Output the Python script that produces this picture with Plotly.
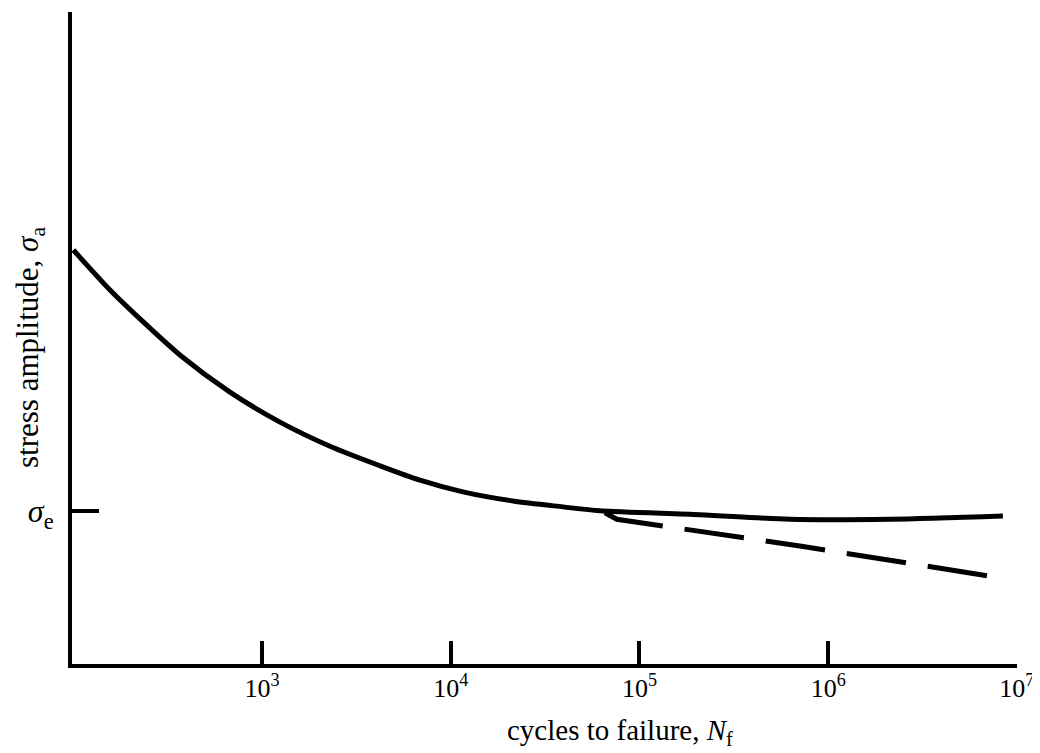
import plotly.graph_objects as go

# S-N curve (stress in arbitrary units, 0-100 full axis)
cycles_solid = [100, 156, 234, 367, 676, 1245, 2290, 4220, 6870, 11600, 21400,
                39300, 61700, 209000, 627000, 2120000, 8430000]
stress_solid = [63.5, 57.4, 52.5, 47.4, 41.7, 37.1, 33.4, 30.4, 28.2, 26.4, 25.0,
                24.1, 23.5, 22.9, 22.2, 22.2, 22.7]

# dashed branch (no endurance limit)
cycles_dashed = [65600, 75900, 708000, 7830000]
stress_dashed = [23.2, 22.2, 18.1, 13.3]

# axis ticks
x_tickvals = [1e3, 1e4, 1e5, 1e6, 1e7]
x_ticktext = ['10<sup>3</sup>', '10<sup>4</sup>', '10<sup>5</sup>', '10<sup>6</sup>', '10<sup>7</sup>']
endurance_limit = 23.5
y_ticktext = ['<i>σ</i><sub>e</sub>']

FONT = 'Liberation Serif'

# the page body adds an 8px margin, so the figure is 8px smaller than the window
W, H = 1032, 745
L, R, T, B = 64, 23, 4, 89
PW, PH = W - L - R, H - T - B

fig = go.Figure()

fig.add_trace(go.Scatter(x=cycles_solid, y=stress_solid, mode='lines',
                         line=dict(color='black', width=5, shape='spline', smoothing=0.8),
                         showlegend=False, hoverinfo='skip'))
fig.add_trace(go.Scatter(x=cycles_dashed, y=stress_dashed, mode='lines',
                         line=dict(color='black', width=5, dash='60px,22px'),
                         showlegend=False, hoverinfo='skip'))

fig.update_xaxes(type='log', range=[1.993, 7.0005], automargin=False,
                 tickvals=x_tickvals, ticktext=x_ticktext,
                 ticks='inside', ticklen=23, tickwidth=4, tickcolor='black',
                 showline=True, linewidth=4, linecolor='black',
                 showgrid=False, zeroline=False, ticklabelstandoff=-2,
                 tickfont=dict(family=FONT, size=26, color='black'))
fig.update_yaxes(range=[0, 100], automargin=False,
                 tickvals=[endurance_limit], ticktext=y_ticktext,
                 ticks='inside', ticklen=27, tickwidth=4, tickcolor='black',
                 showline=True, linewidth=4, linecolor='black',
                 showgrid=False, zeroline=False, ticklabelstandoff=8,
                 tickfont=dict(family=FONT, size=32, color='black'))

# axis titles are placed off-centre in the original, so use annotations
fig.add_annotation(text='cycles to failure, <i>N</i><sub>f</sub>',
                   xref='paper', yref='paper', x=(612 - L) / PW, y=-(724 - (H - B)) / PH,
                   xanchor='center', yanchor='middle',
                   showarrow=False, font=dict(family=FONT, size=29, color='black'))
fig.add_annotation(text='stress amplitude, <i>σ</i><sub>a</sub>', textangle=-90,
                   xref='paper', yref='paper', x=-(L - 22) / PW, y=((H - B) - 340) / PH,
                   xanchor='center', yanchor='middle',
                   showarrow=False, font=dict(family=FONT, size=31, color='black'))

fig.update_layout(width=W, height=H,
                  margin=dict(l=L, r=R, t=T, b=B),
                  plot_bgcolor='white', paper_bgcolor='white',
                  font=dict(family=FONT, color='black'))

fig.write_html('out.html')
